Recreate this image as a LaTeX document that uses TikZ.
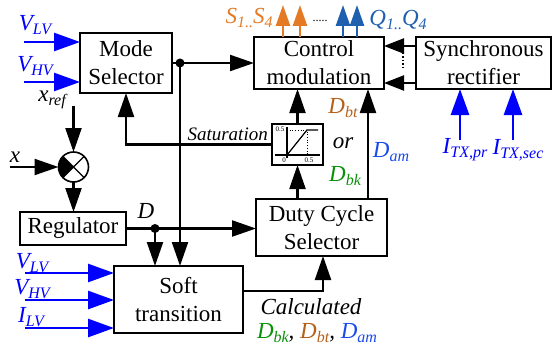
\documentclass[tikz,border=0pt]{standalone}
\usepackage{fontspec}
\setmainfont{Liberation Serif}
\usetikzlibrary{arrows.meta,calc}

\definecolor{inblue}{RGB}{0,0,255}
\definecolor{orng}{RGB}{228,122,36}
\definecolor{qblue}{RGB}{30,95,175}
\definecolor{dbt}{RGB}{181,96,24}
\definecolor{dbk}{RGB}{10,145,10}
\definecolor{dam}{RGB}{25,75,235}

% italic symbol with a lowered, smaller subscript
\newcommand\sbs[2]{#1\raisebox{-4pt}{\fontsize{16}{16}\selectfont #2}}

\begin{document}
\begin{tikzpicture}[x=1pt,y=-1pt,
  box/.style={draw, line width=2.5pt, inner sep=0pt, outer sep=0pt, align=center,
              font=\fontsize{23}{28}\selectfont},
  flow/.style={line width=2.2pt, -{Triangle[length=24pt,width=16pt]}},
  inflow/.style={draw=inblue, line width=2.7pt, -{Triangle[length=26pt,width=18pt]}},
  outflow/.style={line width=2.6pt, -{Triangle[length=21pt,width=14pt]}},
  lbl/.style={inner sep=0pt, font=\fontsize{23}{26}\selectfont\itshape},
  inlbl/.style={lbl, text=inblue},
  junction/.style={circle, fill, inner sep=0pt, minimum size=9pt},
]
\useasboundingbox (0,0) rectangle (554,345);

% blocks
\node[box, minimum width=92pt,  minimum height=60pt] (mode) at (126,63)    {Mode\\Selector};
\node[box, minimum width=130pt, minimum height=52pt] (ctrl) at (319,63)    {Control\\modulation};
\node[box, minimum width=135pt, minimum height=52pt] (sync) at (483.5,63)  {Synchronous\\rectifier};
\node[box, minimum width=51pt,  minimum height=41pt] (sat)  at (297.5,144.5) {};
\node[box, minimum width=131pt, minimum height=57pt] (duty) at (321.5,227.5) {Duty Cycle\\Selector};
\node[box, minimum width=106pt, minimum height=33pt] (reg)  at (73,228.5)  {Regulator};
\node[box, minimum width=129pt, minimum height=67pt] (soft) at (178.5,299.5) {Soft\\transition};
\node[circle, draw, line width=1.6pt, minimum size=30pt, inner sep=0pt, outer sep=0pt] (sum) at (73.5,167) {};

% summing junction marks
\fill (sum.center) -- ++(135:15) arc[start angle=135, end angle=225, radius=15] -- cycle;
\draw[line width=1.2pt] (sum.45) -- (sum.225) (sum.135) -- (sum.315);

% saturation characteristic
\draw[line width=1.2pt] (275,155) -- (320,155) (287,127) -- (287,158);
\draw[line width=1.2pt] (287,155) -- (307,130) -- (318,130);
\draw[line width=0.7pt, dotted] (287,130) -- (307,130) -- (307,155);
\node[inner sep=0pt, font=\fontsize{7}{7}\selectfont] (s05a) at (280,129) {0.5};
\node[inner sep=0pt, font=\fontsize{7}{7}\selectfont] (s0)   at (284,160.5) {0};
\node[inner sep=0pt, font=\fontsize{7}{7}\selectfont] (s05b) at (309,160.5) {0.5};

% reference points
\coordinate (jmx) at (180,63);
\coordinate (jdx) at (155,228.5);
\coordinate (xam) at (368,0);
\coordinate (xsd) at (323,0);
\coordinate (ys)  at (0,291);
\coordinate (ys1) at (0,46);
\coordinate (ys2) at (0,83);
\coordinate (xo1) at (283,0);
\coordinate (xo2) at (300,0);
\coordinate (xo3) at (343,0);
\coordinate (xo4) at (357,0);
\coordinate (xr)  at (73.5,106);
\coordinate (xin) at (10,167);
\coordinate (vm1) at (24,42);
\coordinate (vm2) at (24,82);
\coordinate (vs1) at (25,273);
\coordinate (vs2) at (25,300);
\coordinate (vs3) at (25,328);
\coordinate (itp) at (460,140);
\coordinate (its) at (513,140);

% connectors
\draw[flow] (mode.east) -- (ctrl.west |- mode.east);
\node[junction] (jm) at (jmx) {};
\draw[flow] (jm.center) -- (soft.north -| jm);
\draw[flow] (sat.west) -| (mode.south);
\draw[flow] (sat.north) -- (sat.north |- ctrl.south);
\draw[flow] (duty.north -| sat) -- (sat.south);
\draw[flow] (duty.north -| xam) -- (ctrl.south -| xam);
\draw[flow, -{Triangle[length=20pt,width=15pt]}] (sync.west |- ys1) -- (ctrl.east |- ys1);
\draw[flow, -{Triangle[length=20pt,width=15pt]}] (sync.west |- ys2) -- (ctrl.east |- ys2);
\draw[line width=1.5pt, dash pattern=on 1.5pt off 2pt] (403,53) -- (403,69);

\draw[flow] (xr) -- (sum.north);
\draw[flow] (xin) -- (sum.west);
\draw[flow] (sum.south) -- (reg.north -| sum);
\draw[flow] (reg.east) -- (duty.west |- reg.east);
\node[junction] (jd) at (jdx) {};
\draw[flow] (jd.center) -- (soft.north -| jd);
\draw[flow] (soft.east |- ys) -| (duty.south -| xsd);

% outputs to the switches
\draw[outflow, draw=orng] (ctrl.north -| xo1) -- ++(0,-32);
\draw[outflow, draw=orng] (ctrl.north -| xo2) -- ++(0,-32);
\draw[outflow, draw=qblue] (ctrl.north -| xo3) -- ++(0,-32);
\draw[outflow, draw=qblue] (ctrl.north -| xo4) -- ++(0,-32);
\node[inner sep=0pt, font=\fontsize{12}{12}\selectfont] (odots) at (320,21) {.....};

% measured inputs
\draw[inflow] (vm1) -- (mode.west |- vm1);
\draw[inflow] (vm2) -- (mode.west |- vm2);
\draw[inflow] (vs1) -- (soft.west |- vs1);
\draw[inflow] (vs2) -- (soft.west |- vs2);
\draw[inflow] (vs3) -- (soft.west |- vs3);
\draw[inflow] (itp) -- (sync.south -| itp);
\draw[inflow] (its) -- (sync.south -| its);

% labels
\node[inlbl] (lvl1) at (35,25)  {\sbs{V}{LV}};
\node[inlbl] (lvh1) at (35,66)  {\sbs{V}{HV}};
\node[inlbl] (lvl2) at (32,263) {\sbs{V}{LV}};
\node[inlbl] (lvh2) at (32,289) {\sbs{V}{HV}};
\node[inlbl] (lil)  at (31,317) {\sbs{I}{LV}};
\node[inlbl] (litp) at (465,150) {\sbs{I}{TX,pr}};
\node[inlbl] (lits) at (518,150) {\sbs{I}{TX,sec}};
\node[lbl] (lxref) at (52,100) {\sbs{x}{ref}};
\node[lbl] (lx)    at (15,157) {x};
\node[lbl] (lD)    at (146,211) {D};
\node[inner sep=0pt, font=\fontsize{19}{19}\selectfont\itshape, anchor=east] (lsat) at (268,134) {Saturation};
\node[lbl, text=orng]  (lS)  at (249,18)  {\sbs{S}{1..}\sbs{S}{4}};
\node[lbl, text=qblue] (lQ)  at (398,20)  {\sbs{Q}{1..}\sbs{Q}{4}};
\node[lbl, text=dbt]   (ldbt) at (343,108) {\sbs{D}{bt}};
\node[lbl]             (lor)  at (343,143) {or};
\node[lbl, text=dbk]   (ldbk) at (345,176) {\sbs{D}{bk}};
\node[lbl, text=dam]   (ldam) at (391,152) {\sbs{D}{am}};
\node[lbl] (lcalc) at (311,307) {Calculated};
\node[lbl] (lcalc2) at (317,333) {\textcolor{dbk}{\sbs{D}{bk}}, \textcolor{dbt}{\sbs{D}{bt}}, \textcolor{dam}{\sbs{D}{am}}};
\end{tikzpicture}
\end{document}
